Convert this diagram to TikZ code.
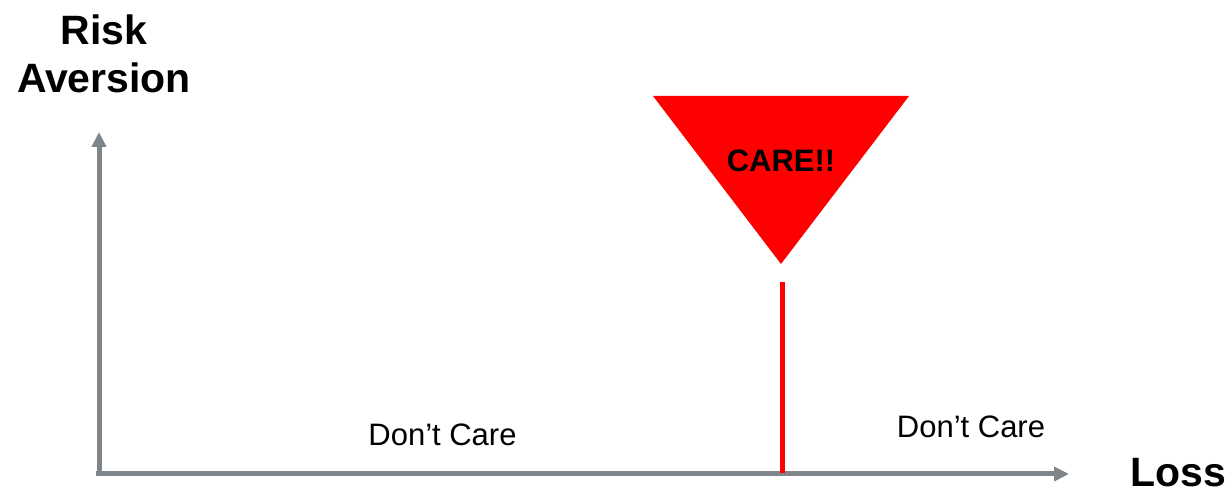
\documentclass[tikz,border=0pt]{standalone}
\usepackage{fontspec}
\setmainfont{Liberation Sans}
\usetikzlibrary{arrows.meta,positioning}
\definecolor{axisgray}{RGB}{128,133,138}
\definecolor{carered}{RGB}{255,0,0}

\begin{document}
\begin{tikzpicture}[
  x=1pt, y=1pt,
  axisline/.style={draw=axisgray,line width=5pt,-{Triangle[length=15pt,width=14pt]}},
  biglabel/.style={font=\fontsize{41}{48}\selectfont\bfseries,inner sep=0pt,anchor=base,align=center},
  carelabel/.style={font=\fontsize{31}{36}\selectfont\bfseries,inner sep=0pt,anchor=base},
  zonelabel/.style={font=\fontsize{31}{36}\selectfont,inner sep=0pt,anchor=base},
]
  \useasboundingbox (0,0) rectangle (1230,494);
  % Axes
  \coordinate (xstart) at (96,20);
  \coordinate (xend) at (1069,20);
  \coordinate (ystart) at (99,17.5);
  \coordinate (yend) at (99,362);
  \draw[axisline] (ystart) -- (yend);
  \draw[axisline] (xstart) -- (xend);
  % Axis labels
  \node[biglabel] (riskav) at (104,401) {Risk\\Aversion};
  \node[biglabel] (loss) at (1178,7) {Loss};
  % Threshold
  \coordinate (tleft) at (653,398);
  \coordinate (tright) at (909,398);
  \coordinate (ttip) at (781,230);
  \fill[carered] (tleft) -- (tright) -- (ttip) -- cycle;
  \node[carelabel] (care) at (781,322) {CARE!!};
  \coordinate (lineTop) at (782,212);
  \coordinate (lineBot) at (782,21);
  \draw[carered,line width=5pt] (lineTop) -- (lineBot);
  % Zones
  \node[zonelabel] (dcleft) at (442.5,48) {Don’t Care};
  \node[zonelabel] (dcright) at (971,56) {Don’t Care};
\end{tikzpicture}
\end{document}
